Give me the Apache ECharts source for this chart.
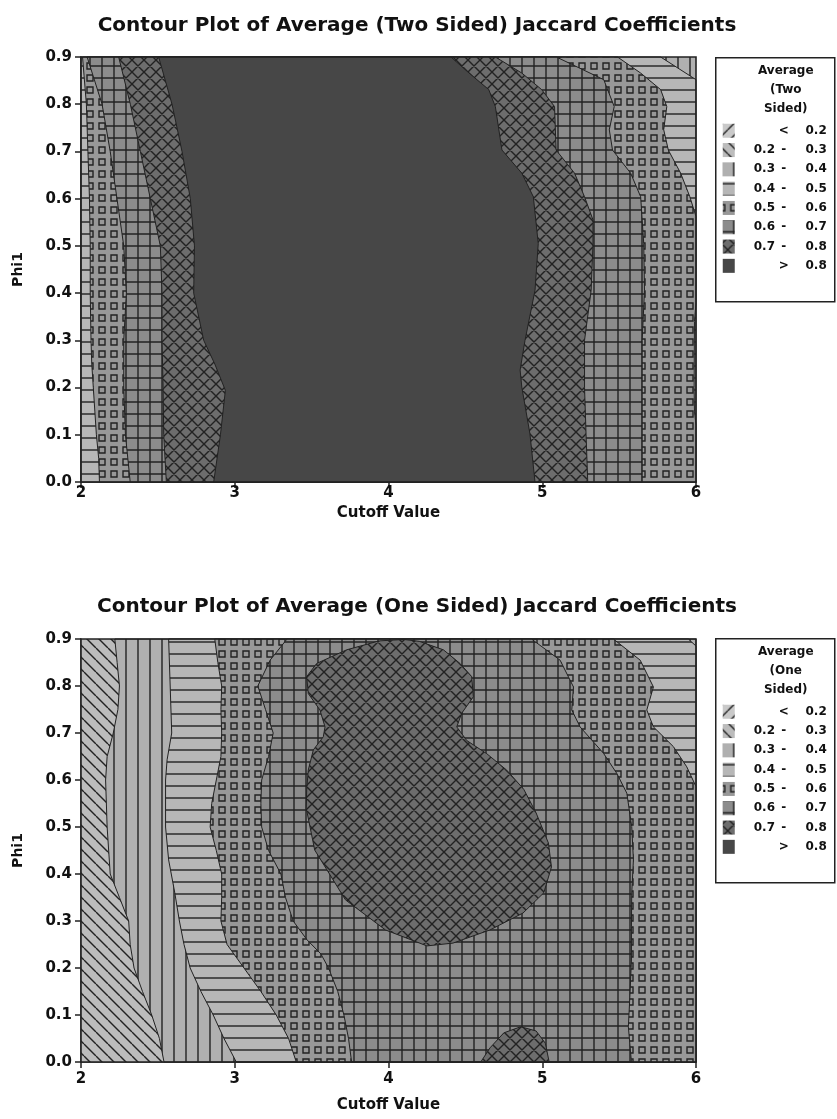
<!DOCTYPE html>
<html>
<head>
<meta charset="utf-8">
<script src="https://cdn.jsdelivr.net/npm/echarts@6/dist/echarts.min.js"></script>
<style>
  html, body { margin: 0; padding: 0; background: #fff; }
  #chart { width: 837px; height: 1119px; }
</style>
</head>
<body>
<div id="chart"></div>
<script>
// ---- axes ----
const cutoffTicks = [2, 3, 4, 5, 6];
const phiTicks = [0.0, 0.1, 0.2, 0.3, 0.4, 0.5, 0.6, 0.7, 0.8, 0.9];

// ---- contour bands (lowest to highest) ----
const bandLow  = ['',    '0.2', '0.3', '0.4', '0.5', '0.6', '0.7', ''];
const bandSign = ['<',   '-',   '-',   '-',   '-',   '-',   '-',   '>'];
const bandHigh = ['0.2', '0.3', '0.4', '0.5', '0.6', '0.7', '0.8', '0.8'];

const chartTitles = [
  'Contour Plot of Average (Two Sided) Jaccard Coefficients',
  'Contour Plot of Average (One Sided) Jaccard Coefficients'
];
const legendHeads = [
  ['Average', '(Two', 'Sided)'],
  ['Average', '(One', 'Sided)']
];

// ---- Two sided: outlines of the area where the average exceeds a level, [cutoff, phi1] ----
const twoSidedOver04 = [[2, 0], [2, 0.9], [5.77, 0.9], [6, 0.852], [6, 0]];
const twoSidedOver05 = [
  [2.12, 0], [2.115, 0.05], [2.10, 0.1], [2.09, 0.15], [2.08, 0.2], [2.07, 0.25], [2.065, 0.3],
  [2.06, 0.4], [2.06, 0.5], [2.055, 0.6], [2.045, 0.7], [2.035, 0.8], [2.02, 0.86], [2.01, 0.9],
  [5.49, 0.9], [5.64, 0.866], [5.77, 0.831], [5.81, 0.795], [5.79, 0.746], [5.82, 0.703],
  [5.90, 0.654], [5.96, 0.604], [6, 0.562], [6, 0.38], [5.99, 0.34], [5.988, 0.2], [5.99, 0.15],
  [6, 0.12], [6, 0]
];
const twoSidedOver06 = [
  [2.32, 0], [2.289, 0.1], [2.278, 0.2], [2.278, 0.3], [2.295, 0.4], [2.278, 0.5], [2.234, 0.6],
  [2.19, 0.7], [2.137, 0.8], [2.04, 0.9],
  [5.092, 0.9], [5.40, 0.852], [5.468, 0.795], [5.436, 0.746], [5.457, 0.703], [5.575, 0.654],
  [5.64, 0.604], [5.66, 0.505], [5.665, 0.406], [5.65, 0.3], [5.65, 0.2], [5.65, 0.1], [5.65, 0]
];
const twoSidedOver07 = [
  [2.555, 0], [2.538, 0.1], [2.534, 0.2], [2.527, 0.3], [2.527, 0.4], [2.516, 0.5], [2.451, 0.6],
  [2.386, 0.7], [2.321, 0.8], [2.245, 0.9],
  [4.695, 0.9], [4.867, 0.866], [4.996, 0.831], [5.08, 0.795], [5.09, 0.703], [5.21, 0.654],
  [5.275, 0.604], [5.33, 0.555], [5.33, 0.505], [5.318, 0.406], [5.275, 0.3], [5.275, 0.2],
  [5.285, 0.1], [5.296, 0]
];
const twoSidedOver08 = [
  [2.863, 0], [2.907, 0.1], [2.939, 0.194], [2.87, 0.25], [2.798, 0.3], [2.733, 0.4], [2.738, 0.5],
  [2.711, 0.6], [2.657, 0.7], [2.592, 0.8], [2.505, 0.9],
  [4.406, 0.9], [4.524, 0.866], [4.652, 0.831], [4.695, 0.795], [4.738, 0.703], [4.867, 0.654],
  [4.942, 0.604], [4.974, 0.505], [4.953, 0.406], [4.888, 0.3], [4.856, 0.237], [4.867, 0.201],
  [4.92, 0.102], [4.953, 0]
];

// ---- One sided ----
const oneSidedOver03 = [
  [2.54, 0], [2.51, 0.05], [2.46, 0.1], [2.40, 0.15], [2.345, 0.2], [2.32, 0.25], [2.31, 0.3],
  [2.25, 0.35], [2.19, 0.4], [2.17, 0.5], [2.16, 0.6], [2.17, 0.65], [2.21, 0.7], [2.24, 0.75],
  [2.25, 0.8], [2.235, 0.85], [2.22, 0.9], [6, 0.9], [6, 0]
];
const oneSidedOver04 = [
  [3.01, 0], [2.93, 0.05], [2.86, 0.1], [2.78, 0.15], [2.71, 0.2], [2.67, 0.25], [2.64, 0.3],
  [2.61, 0.36], [2.57, 0.43], [2.55, 0.5], [2.55, 0.6], [2.56, 0.643], [2.59, 0.7], [2.58, 0.8],
  [2.57, 0.9], [5.95, 0.9], [6, 0.885], [6, 0]
];
const oneSidedOver05 = [
  [3.40, 0], [3.35, 0.05], [3.27, 0.1], [3.17, 0.15], [3.06, 0.2], [2.95, 0.25], [2.91, 0.3],
  [2.915, 0.35], [2.915, 0.4], [2.88, 0.45], [2.84, 0.5], [2.85, 0.55], [2.88, 0.6], [2.91, 0.65],
  [2.915, 0.7], [2.91, 0.75], [2.915, 0.8], [2.89, 0.85], [2.87, 0.9],
  [5.463, 0.9], [5.637, 0.855], [5.723, 0.798], [5.68, 0.749], [5.723, 0.713], [5.853, 0.671],
  [5.94, 0.628], [6, 0.586], [6, 0]
];
const oneSidedOver06 = [
  [3.76, 0], [3.74, 0.05], [3.71, 0.1], [3.67, 0.15], [3.61, 0.2], [3.56, 0.23], [3.47, 0.26],
  [3.38, 0.3], [3.33, 0.35], [3.30, 0.4], [3.22, 0.45], [3.175, 0.5], [3.17, 0.55], [3.175, 0.6],
  [3.22, 0.65], [3.25, 0.7], [3.20, 0.75], [3.15, 0.8], [3.23, 0.855], [3.34, 0.9],
  [4.93, 0.9], [5.116, 0.855], [5.203, 0.798], [5.192, 0.749], [5.246, 0.713], [5.398, 0.657],
  [5.485, 0.614], [5.55, 0.572], [5.582, 0.501], [5.593, 0.43], [5.582, 0.359], [5.58, 0.288],
  [5.58, 0.217], [5.571, 0.146], [5.56, 0.075], [5.58, 0]
];
const oneSidedOver07 = [
  [3.94, 0.896], [4.1, 0.899], [4.2, 0.895], [4.357, 0.877], [4.465, 0.848], [4.541, 0.82],
  [4.552, 0.777], [4.476, 0.742], [4.444, 0.713], [4.509, 0.684], [4.639, 0.656], [4.769, 0.621],
  [4.88, 0.58], [4.96, 0.53], [5.04, 0.466], [5.06, 0.415], [5.01, 0.36], [4.875, 0.317],
  [4.66, 0.281], [4.42, 0.253], [4.25, 0.247], [3.98, 0.281], [3.72, 0.345], [3.52, 0.451],
  [3.465, 0.54], [3.468, 0.579], [3.478, 0.621], [3.511, 0.664], [3.576, 0.692], [3.587, 0.713],
  [3.554, 0.749], [3.478, 0.784], [3.468, 0.82], [3.533, 0.848], [3.728, 0.877]
];
const oneSidedOver07Low = [
  [4.6, 0], [4.66, 0.03], [4.75, 0.062], [4.86, 0.075], [4.96, 0.066], [5.02, 0.04], [5.045, 0]
];

// Painting order: band index drawn, outline
const twoSidedLayers = [
  [3, twoSidedOver04], [4, twoSidedOver05], [5, twoSidedOver06], [6, twoSidedOver07], [7, twoSidedOver08]
];
const oneSidedLayers = [
  [2, oneSidedOver03], [3, oneSidedOver04], [4, oneSidedOver05], [5, oneSidedOver06],
  [6, oneSidedOver07], [6, oneSidedOver07Low]
];
const baseBand = [2, 1];

// ---- hatch patterns ----
const INK = '#222';
const TILE = 12;
function tile(bg, draw) {
  const c = document.createElement('canvas');
  c.width = TILE; c.height = TILE;
  const g = c.getContext('2d');
  g.fillStyle = bg; g.fillRect(0, 0, TILE, TILE);
  g.strokeStyle = INK; g.lineWidth = 1.4;
  g.beginPath(); draw(g); g.stroke();
  return { image: c, repeat: 'repeat' };
}
const T = TILE;
const bandFill = [
  tile('#c9c9c9', g => { for (const k of [-T, 0, T]) { g.moveTo(k, T); g.lineTo(k + T, 0); } }),
  tile('#bcbcbc', g => { for (const k of [-T, 0, T]) { g.moveTo(k, 0); g.lineTo(k + T, T); } }),
  tile('#b0b0b0', g => { g.moveTo(6, 0); g.lineTo(6, T); }),
  tile('#b7b7b7', g => { g.moveTo(0, 6); g.lineTo(T, 6); }),
  tile('#989898', g => { g.rect(3, 3, 6, 6); }),
  tile('#8c8c8c', g => { g.moveTo(6, 0); g.lineTo(6, T); g.moveTo(0, 6); g.lineTo(T, 6); }),
  tile('#6d6d6d', g => {
    for (const k of [-T, 0, T]) { g.moveTo(k, 0); g.lineTo(k + T, T); g.moveTo(k, T); g.lineTo(k + T, 0); }
  }),
  '#474747'
];

const FONT = 'DejaVu Sans';
const grids = [
  { left: 81, top: 57, width: 615, height: 425 },
  { left: 81, top: 639, width: 615, height: 423 }
];

function regionSeries(gi, band, outline) {
  return {
    type: 'custom', xAxisIndex: gi, yAxisIndex: gi, silent: true, animation: false,
    data: outline,
    renderItem(params, api) {
      if (params.dataIndexInside !== 0) return;
      return {
        type: 'polygon',
        shape: { points: outline.map(p => api.coord(p)) },
        style: { fill: bandFill[band], stroke: INK, lineWidth: 1 }
      };
    }
  };
}
function baseSeries(gi, band) {
  const corners = [[cutoffTicks[0], phiTicks[0]], [cutoffTicks[cutoffTicks.length - 1], phiTicks[phiTicks.length - 1]]];
  return {
    type: 'custom', xAxisIndex: gi, yAxisIndex: gi, silent: true, animation: false,
    data: corners,
    renderItem(params, api) {
      if (params.dataIndexInside !== 0) return;
      const a = api.coord(corners[0]), b = api.coord(corners[1]);
      return {
        type: 'rect',
        shape: { x: a[0], y: b[1], width: b[0] - a[0], height: a[1] - b[1] },
        style: band == null ? { fill: 'none', stroke: INK, lineWidth: 1.6 } : { fill: bandFill[band] }
      };
    }
  };
}

const series = [];
[twoSidedLayers, oneSidedLayers].forEach((layers, gi) => {
  series.push(baseSeries(gi, baseBand[gi]));
  layers.forEach(([band, outline]) => series.push(regionSeries(gi, band, outline)));
  series.push(baseSeries(gi, null));
});

const xAxes = grids.map((g, gi) => ({
  gridIndex: gi, type: 'value',
  min: cutoffTicks[0], max: cutoffTicks[cutoffTicks.length - 1], interval: cutoffTicks[1] - cutoffTicks[0],
  name: 'Cutoff Value', nameLocation: 'middle', nameGap: gi === 0 ? 24 : 36,
  nameTextStyle: { fontFamily: FONT, fontWeight: 'bold', fontSize: 15, color: '#111' },
  axisLine: { lineStyle: { color: INK, width: 1.5 } },
  axisTick: { length: 6, lineStyle: { color: INK, width: 1.5 } },
  axisLabel: { fontFamily: FONT, fontWeight: 'bold', fontSize: 15, color: '#111', margin: gi === 0 ? 4 : 10 },
  splitLine: { show: false }
}));
const yAxes = grids.map((g, gi) => ({
  gridIndex: gi, type: 'value',
  min: phiTicks[0], max: phiTicks[phiTicks.length - 1], interval: 0.1,
  name: 'Phi1', nameLocation: 'middle', nameGap: 56, nameRotate: 90,
  nameTextStyle: { fontFamily: FONT, fontWeight: 'bold', fontSize: 14, color: '#111' },
  axisLine: { lineStyle: { color: INK, width: 1.5 } },
  axisTick: { length: 6, lineStyle: { color: INK, width: 1.5 } },
  axisLabel: { fontFamily: FONT, fontWeight: 'bold', fontSize: 15, color: '#111', margin: 9,
               formatter: v => v.toFixed(1) },
  splitLine: { show: false }
}));

// legend boxes drawn as graphics
function legendGroup(gi, top) {
  const children = [
    { type: 'rect', shape: { x: 0, y: 0, width: 119, height: 244 },
      style: { fill: '#fff', stroke: INK, lineWidth: 1.5 } }
  ];
  legendHeads[gi].forEach((t, i) => children.push({
    type: 'text', x: 70, y: 13 + i * 19,
    style: { text: t, font: `bold 12px "${FONT}"`, fill: '#111', align: 'center', verticalAlign: 'middle' }
  }));
  bandHigh.forEach((hi, i) => {
    const y = 73 + i * 19.3;
    children.push({ type: 'rect', shape: { x: 7, y: y - 7, width: 12, height: 14 },
      style: { fill: bandFill[i], stroke: 'none' } });
    if (bandLow[i]) children.push({ type: 'text', x: 38, y,
      style: { text: bandLow[i], font: `bold 12px "${FONT}"`, fill: '#111', align: 'left', verticalAlign: 'middle' } });
    children.push({ type: 'text', x: 68, y,
      style: { text: bandSign[i], font: `bold 12px "${FONT}"`, fill: '#111', align: 'center', verticalAlign: 'middle' } });
    children.push({ type: 'text', x: 111, y,
      style: { text: hi, font: `bold 12px "${FONT}"`, fill: '#111', align: 'right', verticalAlign: 'middle' } });
  });
  return { type: 'group', left: 715, top, children };
}

const chart = echarts.init(document.getElementById('chart'), null, { renderer: 'canvas' });
chart.setOption({
  backgroundColor: '#fff',
  animation: false,
  title: chartTitles.map((t, i) => ({
    text: t, left: 412, top: i === 0 ? 11 : 592, textAlign: 'center',
    textStyle: { fontFamily: FONT, fontWeight: 'bold', fontSize: 20, color: '#111' }
  })),
  grid: grids,
  xAxis: xAxes,
  yAxis: yAxes,
  series,
  graphic: [legendGroup(0, 57), legendGroup(1, 638)]
});
</script>
</body>
</html>
